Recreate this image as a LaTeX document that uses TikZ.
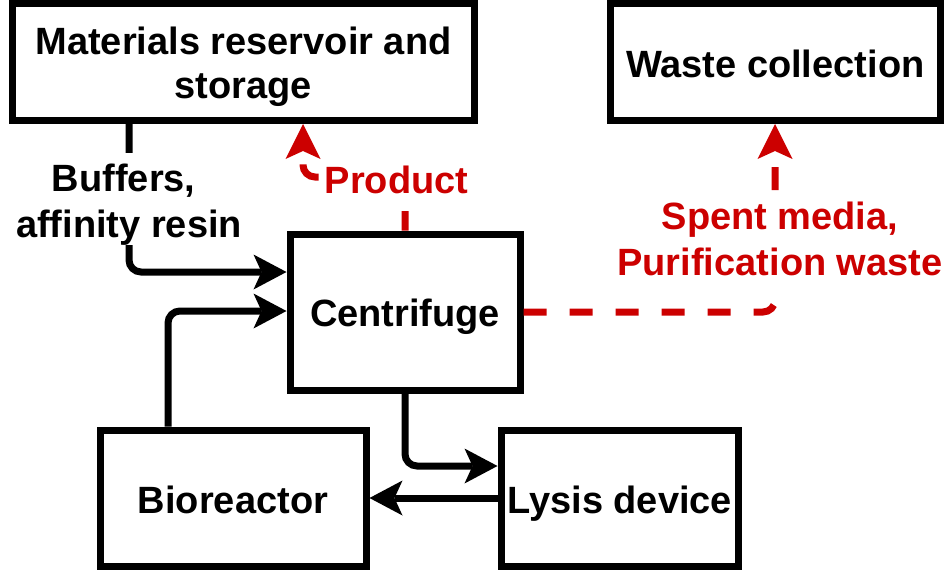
\documentclass[tikz,border=0pt]{standalone}
\usepackage{fontspec}
\setmainfont{Liberation Sans}
\usetikzlibrary{arrows.meta}
\definecolor{dred}{RGB}{204,0,0}
\newcommand{\tsT}{\rule{0pt}{1em}}
\newcommand{\tsB}{\rule[-0.21em]{0pt}{0.21em}}
\begin{document}
\begin{tikzpicture}[x=1pt,y=-1pt,
  box/.style={draw=black,fill=white,line width=7pt,rectangle,inner sep=0pt,
    font=\fontsize{38}{44}\selectfont\bfseries,align=center},
  flow/.style={draw=black,line width=7pt,rounded corners=12pt,
    -{Stealth[length=33pt,width=35pt,inset=8pt,line width=0pt]}},
  rflow/.style={draw=dred,line width=7pt,rounded corners=12pt,
    dash pattern=on 23pt off 23pt,dash phase=3.5pt,
    -{Stealth[length=35pt,width=35pt,inset=8pt,line width=0pt]}},
  lab/.style={fill=white,inner xsep=2pt,inner ysep=0pt,align=center,
    font=\fontsize{38}{46}\selectfont\bfseries}
]
\useasboundingbox (0,0) rectangle (945,578);
% boxes
\node[box,minimum width=462pt,minimum height=117pt] (mat) at (243.5,62)
  {\tsT Materials reservoir and\\storage\tsB};
\node[box,minimum width=330.5pt,minimum height=117pt] (waste) at (775.25,62)
  {\tsT Waste collection\tsB};
\node[box,minimum width=230pt,minimum height=156pt] (cent) at (405,312)
  {\tsT Centrifuge\tsB};
\node[box,minimum width=266pt,minimum height=136pt] (bio) at (233,498)
  {\tsT Bioreactor\tsB};
\node[box,minimum width=237.5pt,minimum height=136pt] (lysis) at (619.75,498)
  {\tsT Lysis device\tsB};
% bend points
\coordinate (c1) at (129,272);
\coordinate (c2) at (168,311);
\coordinate (c3) at (405,466);
\coordinate (p1) at (405,177);
\coordinate (p2) at (303,177);
\coordinate (w1) at (775,312);
% black connectors
\draw[flow] (c1 |- mat.south) -- (c1) -- (c1 -| cent.west);
\draw[flow] (c2 |- bio.north) -- (c2) -- (c2 -| cent.west);
\draw[flow] (cent.south) -- (c3) -- (c3 -| lysis.west);
\draw[flow] (lysis.west) -- (bio.east);
% red dashed connectors
\draw[rflow] (cent.north) -- (p1) -- (p2) -- (p2 |- mat.south);
\draw[rflow,dash phase=0pt] (cent.east) -- (w1) -- (w1 |- waste.south);
% labels
\node[lab,text=black] (buf) at (129,199)
  {\tsT Buffers,\hspace*{0.278em}\\affinity resin\tsB};
\node[lab,text=dred] (prod) at (396.5,178) {\tsT Product\tsB};
\node[lab,text=dred] (spent) at (780,237)
  {\tsT Spent media,\\Purification waste\tsB};
\end{tikzpicture}
\end{document}
